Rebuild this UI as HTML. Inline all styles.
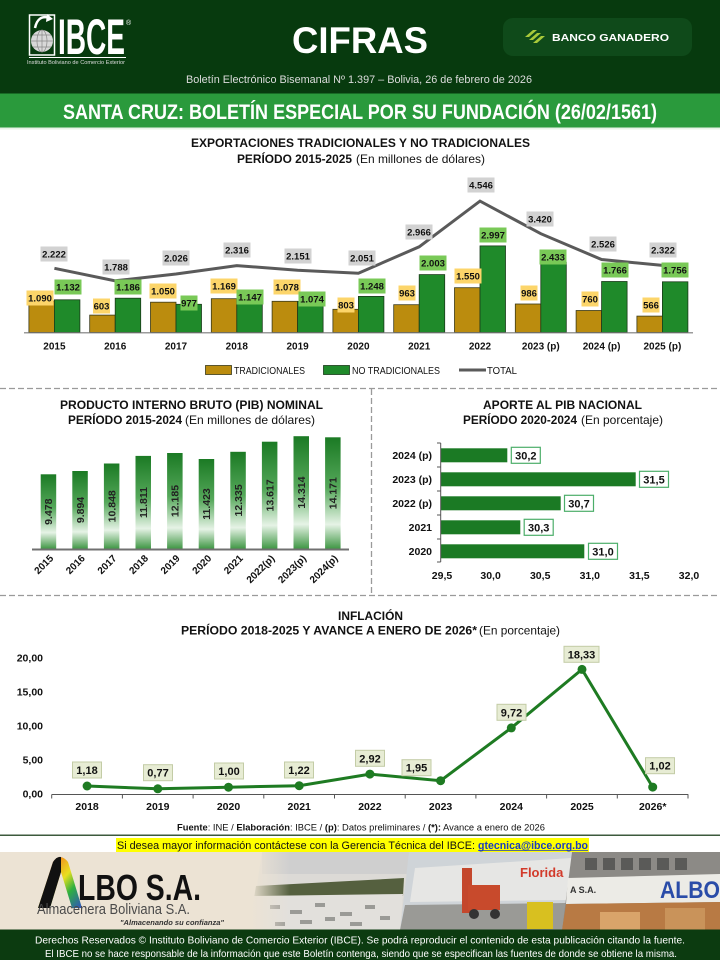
<!DOCTYPE html>
<html>
<head>
<meta charset="utf-8">
<style>
html,body{margin:0;padding:0;background:#fff;}
svg{display:block;}
text{font-family:"Liberation Sans",Arial,sans-serif;}
.b{font-weight:bold;}
</style>
</head>
<body>
<svg width="720" height="960" viewBox="0 0 720 960" xmlns="http://www.w3.org/2000/svg">
<defs>
  <linearGradient id="pib" x1="0" y1="0" x2="0" y2="1">
    <stop offset="0" stop-color="#1b7a24"/>
    <stop offset="0.45" stop-color="#55a85a"/>
    <stop offset="0.78" stop-color="#e6f3e6"/>
    <stop offset="1" stop-color="#3e9643"/>
  </linearGradient>
  <linearGradient id="rb" x1="0" y1="0" x2="1" y2="1">
    <stop offset="0" stop-color="#e02020"/>
    <stop offset="0.3" stop-color="#f0a020"/>
    <stop offset="0.5" stop-color="#e8e020"/>
    <stop offset="0.7" stop-color="#30b040"/>
    <stop offset="1" stop-color="#3050c0"/>
  </linearGradient>
  <linearGradient id="fade" x1="0" y1="0" x2="1" y2="0">
    <stop offset="0" stop-color="#ece3d4" stop-opacity="1"/>
    <stop offset="1" stop-color="#ece3d4" stop-opacity="0"/>
  </linearGradient>
</defs>

<!-- HEADER -->
<rect x="0" y="0" width="720" height="94" fill="#073a0e"/>
<rect x="29.5" y="15" width="25" height="40" fill="none" stroke="#fff" stroke-width="1.5"/>
<circle cx="42" cy="41" r="11" fill="#d8d8d8"/>
<g stroke="#888" stroke-width="0.7" fill="none">
  <ellipse cx="42" cy="41" rx="5" ry="11"/>
  <line x1="31" y1="41" x2="53" y2="41"/>
  <line x1="33" y1="35" x2="51" y2="35"/>
  <line x1="33" y1="47" x2="51" y2="47"/>
  <line x1="42" y1="30" x2="42" y2="52"/>
</g>
<path d="M35,28 Q38,14 50,18" fill="none" stroke="#fff" stroke-width="2.5"/>
<path d="M47,14 L53,19 L46,22 Z" fill="#fff"/>
<text x="58" y="54" class="b" font-size="50" fill="#fff" textLength="67" lengthAdjust="spacingAndGlyphs">IBCE</text>
<text x="126" y="25" font-size="7" fill="#fff">®</text>
<line x1="29" y1="57.5" x2="126" y2="57.5" stroke="#fff" stroke-width="1"/>
<text x="27" y="64" font-size="5" fill="#ddd" textLength="98" lengthAdjust="spacingAndGlyphs">Instituto Boliviano de Comercio Exterior</text>

<text x="360" y="53" class="b" font-size="37" fill="#fff" text-anchor="middle" textLength="136" lengthAdjust="spacingAndGlyphs">CIFRAS</text>

<rect x="503" y="18" width="189" height="38" rx="10" fill="#0f4a1a"/>
<g fill="#a9c93a">
  <polygon points="525,37 533,30 537,30 529,37"/>
  <polygon points="529,40 537,33 541,33 533,40"/>
  <polygon points="533,43 541,36 545,36 537,43"/>
</g>
<text x="552" y="41" class="b" font-size="10.5" fill="#fff" textLength="117" lengthAdjust="spacingAndGlyphs">BANCO GANADERO</text>

<text x="186" y="83" font-size="11" fill="#dcdcdc" textLength="346" lengthAdjust="spacingAndGlyphs">Boletín Electrónico Bisemanal Nº 1.397 – Bolivia, 26 de febrero de 2026</text>

<rect x="0" y="93.5" width="720" height="34" fill="#2a9a3c"/>
<rect x="0" y="127.5" width="720" height="2" fill="#e6f3e6"/>
<text x="63" y="119" font-size="21" font-weight="bold" fill="#fff" textLength="594" lengthAdjust="spacingAndGlyphs">SANTA CRUZ: BOLETÍN ESPECIAL POR SU FUNDACIÓN (26/02/1561)</text>

<!-- EXPORT CHART -->
<text x="191" y="147" class="b" font-size="12" fill="#111" textLength="339" lengthAdjust="spacingAndGlyphs">EXPORTACIONES TRADICIONALES Y NO TRADICIONALES</text>
<text x="237" y="163" class="b" font-size="12" fill="#111" textLength="115" lengthAdjust="spacingAndGlyphs">PERÍODO 2015-2025</text>
<text x="356" y="163" font-size="12" fill="#111" textLength="129" lengthAdjust="spacingAndGlyphs">(En millones de dólares)</text>

<g fill="#bb8c0e" stroke="#3a3a1a" stroke-width="0.8">
  <rect x="28.9" y="301.0" width="25.5" height="31.5"/>
  <rect x="89.7" y="315.1" width="25.5" height="17.4"/>
  <rect x="150.5" y="302.2" width="25.5" height="30.3"/>
  <rect x="211.3" y="298.7" width="25.5" height="33.8"/>
  <rect x="272.1" y="301.3" width="25.5" height="31.2"/>
  <rect x="332.9" y="309.3" width="25.5" height="23.2"/>
  <rect x="393.7" y="304.7" width="25.5" height="27.8"/>
  <rect x="454.5" y="287.7" width="25.5" height="44.8"/>
  <rect x="515.3" y="304.0" width="25.5" height="28.5"/>
  <rect x="576.1" y="310.5" width="25.5" height="22.0"/>
  <rect x="636.9" y="316.1" width="25.5" height="16.4"/>
</g>
<g fill="#1f8a2a" stroke="#1a3a1a" stroke-width="0.8">
  <rect x="54.4" y="299.8" width="25.5" height="32.7"/>
  <rect x="115.2" y="298.2" width="25.5" height="34.3"/>
  <rect x="176" y="304.3" width="25.5" height="28.2"/>
  <rect x="236.8" y="299.4" width="25.5" height="33.1"/>
  <rect x="297.6" y="301.5" width="25.5" height="31.0"/>
  <rect x="358.4" y="296.4" width="25.5" height="36.1"/>
  <rect x="419.2" y="274.6" width="25.5" height="57.9"/>
  <rect x="480" y="245.9" width="25.5" height="86.6"/>
  <rect x="540.8" y="262.2" width="25.5" height="70.3"/>
  <rect x="601.6" y="281.5" width="25.5" height="51.0"/>
  <rect x="662.4" y="281.8" width="25.5" height="50.7"/>
</g>
<line x1="24" y1="332.8" x2="693" y2="332.8" stroke="#7a7a7a" stroke-width="1.2"/>
<polyline points="54.4,268.3 115.2,280.8 176,274.0 236.8,265.6 297.6,270.3 358.4,273.2 419.2,246.8 480,201.1 540.8,233.7 601.6,259.5 662.4,265.4" fill="none" stroke="#5a5a5a" stroke-width="3"/>

<g font-size="9.5" class="b" text-anchor="middle" fill="#111">
  <rect x="26.5" y="290.5" width="27" height="15" fill="#fcd56a"/><text x="40" y="301.5">1.090</text>
  <rect x="93" y="298.5" width="17" height="15" fill="#fcd56a"/><text x="101.5" y="309.5">603</text>
  <rect x="149.5" y="283.5" width="27" height="15" fill="#fcd56a"/><text x="163" y="294.5">1.050</text>
  <rect x="210.5" y="278.5" width="27" height="15" fill="#fcd56a"/><text x="224" y="289.5">1.169</text>
  <rect x="273.5" y="279.5" width="27" height="15" fill="#fcd56a"/><text x="287" y="290.5">1.078</text>
  <rect x="337.5" y="297.5" width="17" height="15" fill="#fcd56a"/><text x="346" y="308.5">803</text>
  <rect x="398.5" y="285.5" width="17" height="15" fill="#fcd56a"/><text x="407" y="296.5">963</text>
  <rect x="454.5" y="268.5" width="27" height="15" fill="#fcd56a"/><text x="468" y="279.5">1.550</text>
  <rect x="520.5" y="285.5" width="17" height="15" fill="#fcd56a"/><text x="529" y="296.5">986</text>
  <rect x="581.5" y="291.5" width="17" height="15" fill="#fcd56a"/><text x="590" y="302.5">760</text>
  <rect x="642.5" y="297.5" width="17" height="15" fill="#fcd56a"/><text x="651" y="308.5">566</text>
</g>
<g font-size="9.5" class="b" text-anchor="middle" fill="#111">
  <rect x="54.5" y="279.5" width="27" height="15" fill="#79c957"/><text x="68" y="290.5">1.132</text>
  <rect x="114.5" y="279.5" width="27" height="15" fill="#79c957"/><text x="128" y="290.5">1.186</text>
  <rect x="180.5" y="295.5" width="17" height="15" fill="#79c957"/><text x="189" y="306.5">977</text>
  <rect x="236.5" y="289.5" width="27" height="15" fill="#79c957"/><text x="250" y="300.5">1.147</text>
  <rect x="298.5" y="291.5" width="27" height="15" fill="#79c957"/><text x="312" y="302.5">1.074</text>
  <rect x="358.5" y="278.5" width="27" height="15" fill="#79c957"/><text x="372" y="289.5">1.248</text>
  <rect x="419.5" y="255.5" width="27" height="15" fill="#79c957"/><text x="433" y="266.5">2.003</text>
  <rect x="479.5" y="227.5" width="27" height="15" fill="#79c957"/><text x="493" y="238.5">2.997</text>
  <rect x="539.5" y="249.5" width="27" height="15" fill="#79c957"/><text x="553" y="260.5">2.433</text>
  <rect x="601.5" y="262.5" width="27" height="15" fill="#79c957"/><text x="615" y="273.5">1.766</text>
  <rect x="661.5" y="262.5" width="27" height="15" fill="#79c957"/><text x="675" y="273.5">1.756</text>
</g>
<g font-size="9.5" class="b" text-anchor="middle" fill="#111">
  <rect x="40.5" y="246.5" width="27" height="15" fill="#d2d2d2"/><text x="54" y="257.5">2.222</text>
  <rect x="102.5" y="259.5" width="27" height="15" fill="#d2d2d2"/><text x="116" y="270.5">1.788</text>
  <rect x="162.5" y="250.5" width="27" height="15" fill="#d2d2d2"/><text x="176" y="261.5">2.026</text>
  <rect x="223.5" y="242.5" width="27" height="15" fill="#d2d2d2"/><text x="237" y="253.5">2.316</text>
  <rect x="284.5" y="248.5" width="27" height="15" fill="#d2d2d2"/><text x="298" y="259.5">2.151</text>
  <rect x="348.5" y="250.5" width="27" height="15" fill="#d2d2d2"/><text x="362" y="261.5">2.051</text>
  <rect x="405.5" y="224.5" width="27" height="15" fill="#d2d2d2"/><text x="419" y="235.5">2.966</text>
  <rect x="467.5" y="177.5" width="27" height="15" fill="#d2d2d2"/><text x="481" y="188.5">4.546</text>
  <rect x="526.5" y="211.5" width="27" height="15" fill="#d2d2d2"/><text x="540" y="222.5">3.420</text>
  <rect x="589.5" y="236.5" width="27" height="15" fill="#d2d2d2"/><text x="603" y="247.5">2.526</text>
  <rect x="649.5" y="242.5" width="27" height="15" fill="#d2d2d2"/><text x="663" y="253.5">2.322</text>
</g>
<g font-size="10" class="b" text-anchor="middle" fill="#111">
  <text x="54.4" y="349.5">2015</text>
  <text x="115.2" y="349.5">2016</text>
  <text x="176" y="349.5">2017</text>
  <text x="236.8" y="349.5">2018</text>
  <text x="297.6" y="349.5">2019</text>
  <text x="358.4" y="349.5">2020</text>
  <text x="419.2" y="349.5">2021</text>
  <text x="480" y="349.5">2022</text>
  <text x="540.8" y="349.5">2023 (p)</text>
  <text x="601.6" y="349.5">2024 (p)</text>
  <text x="662.4" y="349.5">2025 (p)</text>
</g>
<rect x="205.5" y="365.5" width="26" height="9" fill="#bb8c0e" stroke="#3a3a1a" stroke-width="0.8"/>
<text x="234" y="374" font-size="10" fill="#111" textLength="71" lengthAdjust="spacingAndGlyphs">TRADICIONALES</text>
<rect x="323.5" y="365.5" width="26" height="9" fill="#1f8a2a" stroke="#1a3a1a" stroke-width="0.8"/>
<text x="352" y="374" font-size="10" fill="#111" textLength="88" lengthAdjust="spacingAndGlyphs">NO TRADICIONALES</text>
<line x1="459" y1="370" x2="486" y2="370" stroke="#5a5a5a" stroke-width="3"/>
<text x="487" y="374" font-size="10" fill="#111" textLength="30" lengthAdjust="spacingAndGlyphs">TOTAL</text>

<g stroke="#9a9a9a" stroke-width="1.3" stroke-dasharray="6,3" fill="none">
  <line x1="0" y1="388.5" x2="720" y2="388.5"/>
  <line x1="371.5" y1="389" x2="371.5" y2="595"/>
  <line x1="0" y1="595.5" x2="720" y2="595.5"/>
</g>

<!-- PIB CHART -->
<text x="60" y="409" class="b" font-size="12" fill="#111" textLength="263" lengthAdjust="spacingAndGlyphs">PRODUCTO INTERNO BRUTO (PIB) NOMINAL</text>
<text x="68" y="424" class="b" font-size="12" fill="#111" textLength="114" lengthAdjust="spacingAndGlyphs">PERÍODO 2015-2024</text>
<text x="185" y="424" font-size="12" fill="#111" textLength="130" lengthAdjust="spacingAndGlyphs">(En millones de dólares)</text>
<g fill="url(#pib)">
  <rect x="40.7" y="474.3" width="15.5" height="74.7"/>
  <rect x="72.3" y="471.0" width="15.5" height="78.0"/>
  <rect x="103.9" y="463.5" width="15.5" height="85.5"/>
  <rect x="135.5" y="455.9" width="15.5" height="93.1"/>
  <rect x="167.1" y="453.0" width="15.5" height="96.0"/>
  <rect x="198.7" y="459.0" width="15.5" height="90.0"/>
  <rect x="230.3" y="451.8" width="15.5" height="97.2"/>
  <rect x="261.9" y="441.7" width="15.5" height="107.3"/>
  <rect x="293.5" y="436.2" width="15.5" height="112.8"/>
  <rect x="325.1" y="437.3" width="15.5" height="111.7"/>
</g>
<line x1="32" y1="549.5" x2="349" y2="549.5" stroke="#707070" stroke-width="2"/>
<g font-size="10.5" class="b" fill="#222" text-anchor="middle">
  <text transform="translate(52.2,511.7) rotate(-90)">9.478</text>
  <text transform="translate(83.8,510) rotate(-90)">9.894</text>
  <text transform="translate(115.4,506.3) rotate(-90)">10.848</text>
  <text transform="translate(147,502.5) rotate(-90)">11.811</text>
  <text transform="translate(178.6,501) rotate(-90)">12.185</text>
  <text transform="translate(210.2,504) rotate(-90)">11.423</text>
  <text transform="translate(241.8,500.4) rotate(-90)">12.335</text>
  <text transform="translate(273.4,495.4) rotate(-90)">13.617</text>
  <text transform="translate(305,492.6) rotate(-90)">14.314</text>
  <text transform="translate(336.6,493.2) rotate(-90)">14.171</text>
</g>
<g font-size="10" class="b" fill="#111" text-anchor="end">
  <text transform="translate(54,559) rotate(-45)">2015</text>
  <text transform="translate(85.6,559) rotate(-45)">2016</text>
  <text transform="translate(117.2,559) rotate(-45)">2017</text>
  <text transform="translate(148.8,559) rotate(-45)">2018</text>
  <text transform="translate(180.4,559) rotate(-45)">2019</text>
  <text transform="translate(212,559) rotate(-45)">2020</text>
  <text transform="translate(243.6,559) rotate(-45)">2021</text>
  <text transform="translate(275.2,559) rotate(-45)">2022(p)</text>
  <text transform="translate(306.8,559) rotate(-45)">2023(p)</text>
  <text transform="translate(338.4,559) rotate(-45)">2024(p)</text>
</g>

<!-- APORTE CHART -->
<text x="483" y="409" class="b" font-size="12" fill="#111" textLength="159" lengthAdjust="spacingAndGlyphs">APORTE AL PIB NACIONAL</text>
<text x="463" y="424" class="b" font-size="12" fill="#111" textLength="114" lengthAdjust="spacingAndGlyphs">PERÍODO 2020-2024</text>
<text x="581" y="424" font-size="12" fill="#111" textLength="82" lengthAdjust="spacingAndGlyphs">(En porcentaje)</text>
<g fill="#1b7a24">
  <rect x="440.7" y="448.3" width="66.6" height="14"/>
  <rect x="440.7" y="472.3" width="195" height="14"/>
  <rect x="440.7" y="496.3" width="120" height="14"/>
  <rect x="440.7" y="520.3" width="79.6" height="14"/>
  <rect x="440.7" y="544.3" width="143.6" height="14"/>
</g>
<g stroke="#555" stroke-width="1">
  <line x1="440.7" y1="443" x2="440.7" y2="562"/>
  <line x1="437" y1="443" x2="440.7" y2="443"/>
  <line x1="437" y1="467" x2="440.7" y2="467"/>
  <line x1="437" y1="491" x2="440.7" y2="491"/>
  <line x1="437" y1="515" x2="440.7" y2="515"/>
  <line x1="437" y1="539" x2="440.7" y2="539"/>
  <line x1="437" y1="562" x2="440.7" y2="562"/>
</g>
<g fill="#fff" stroke="#4cae6a" stroke-width="1.2">
  <rect x="511.3" y="447.3" width="29" height="16"/>
  <rect x="639.5" y="471.3" width="29" height="16"/>
  <rect x="564.5" y="495.3" width="29" height="16"/>
  <rect x="524.2" y="519.3" width="29" height="16"/>
  <rect x="588.5" y="543.3" width="29" height="16"/>
</g>
<g font-size="11" class="b" fill="#111" text-anchor="middle">
  <text x="525.8" y="459.3">30,2</text>
  <text x="654" y="483.3">31,5</text>
  <text x="579" y="507.3">30,7</text>
  <text x="538.7" y="531.3">30,3</text>
  <text x="603" y="555.3">31,0</text>
</g>
<g font-size="10.5" class="b" fill="#111" text-anchor="end">
  <text x="432" y="459">2024 (p)</text>
  <text x="432" y="483">2023 (p)</text>
  <text x="432" y="507">2022 (p)</text>
  <text x="432" y="531">2021</text>
  <text x="432" y="555">2020</text>
</g>
<g font-size="10.5" class="b" fill="#111" text-anchor="middle">
  <text x="442" y="579">29,5</text>
  <text x="490.6" y="579">30,0</text>
  <text x="540.2" y="579">30,5</text>
  <text x="589.8" y="579">31,0</text>
  <text x="639.4" y="579">31,5</text>
  <text x="689" y="579">32,0</text>
</g>

<!-- INFLATION CHART -->
<text x="338" y="620" class="b" font-size="12" fill="#111" textLength="65" lengthAdjust="spacingAndGlyphs">INFLACIÓN</text>
<text x="181" y="634.5" class="b" font-size="12" fill="#111" textLength="296" lengthAdjust="spacingAndGlyphs">PERÍODO 2018-2025 Y AVANCE A ENERO DE 2026*</text>
<text x="479" y="634.5" font-size="12" fill="#111" textLength="81" lengthAdjust="spacingAndGlyphs">(En porcentaje)</text>
<g font-size="10.5" class="b" fill="#111" text-anchor="end">
  <text x="43" y="661.7">20,00</text>
  <text x="43" y="695.7">15,00</text>
  <text x="43" y="729.7">10,00</text>
  <text x="43" y="763.7">5,00</text>
  <text x="43" y="797.7">0,00</text>
</g>
<g stroke="#555" stroke-width="1">
  <line x1="51.7" y1="794.5" x2="688.3" y2="794.5"/>
  <line x1="51.7" y1="794.5" x2="51.7" y2="798.5"/>
  <line x1="122.4" y1="794.5" x2="122.4" y2="798.5"/>
  <line x1="193.1" y1="794.5" x2="193.1" y2="798.5"/>
  <line x1="263.8" y1="794.5" x2="263.8" y2="798.5"/>
  <line x1="334.5" y1="794.5" x2="334.5" y2="798.5"/>
  <line x1="405.2" y1="794.5" x2="405.2" y2="798.5"/>
  <line x1="475.9" y1="794.5" x2="475.9" y2="798.5"/>
  <line x1="546.6" y1="794.5" x2="546.6" y2="798.5"/>
  <line x1="617.3" y1="794.5" x2="617.3" y2="798.5"/>
  <line x1="688" y1="794.5" x2="688" y2="798.5"/>
</g>
<polyline points="87.1,786.0 157.8,788.8 228.5,787.2 299.2,785.7 369.9,774.1 440.6,780.7 511.3,727.9 582.0,669.4 652.7,787.1" fill="none" stroke="#1e7b22" stroke-width="3"/>
<g fill="#1e7b22">
  <circle cx="87.1" cy="786.0" r="4.5"/>
  <circle cx="157.8" cy="788.8" r="4.5"/>
  <circle cx="228.5" cy="787.2" r="4.5"/>
  <circle cx="299.2" cy="785.7" r="4.5"/>
  <circle cx="369.9" cy="774.1" r="4.5"/>
  <circle cx="440.6" cy="780.7" r="4.5"/>
  <circle cx="511.3" cy="727.9" r="4.5"/>
  <circle cx="582.0" cy="669.4" r="4.5"/>
  <circle cx="652.7" cy="787.1" r="4.5"/>
</g>
<g fill="#e7ecd4" stroke="#c3cca6" stroke-width="1">
  <rect x="72.5" y="762" width="29" height="16"/>
  <rect x="143.5" y="764.7" width="29" height="16"/>
  <rect x="214.5" y="763" width="29" height="16"/>
  <rect x="284.5" y="762" width="29" height="16"/>
  <rect x="355.5" y="750.3" width="29" height="16"/>
  <rect x="402" y="759.7" width="29" height="16"/>
  <rect x="497" y="704.3" width="29" height="16"/>
  <rect x="564" y="646.3" width="35" height="16"/>
  <rect x="645.5" y="757.7" width="29" height="16"/>
</g>
<g font-size="11" class="b" fill="#111" text-anchor="middle">
  <text x="87" y="774">1,18</text>
  <text x="158" y="776.7">0,77</text>
  <text x="229" y="775">1,00</text>
  <text x="299" y="774">1,22</text>
  <text x="370" y="762.3">2,92</text>
  <text x="416.5" y="771.7">1,95</text>
  <text x="511.5" y="716.3">9,72</text>
  <text x="581.5" y="658.3">18,33</text>
  <text x="660" y="769.7">1,02</text>
</g>
<g font-size="10.5" class="b" fill="#111" text-anchor="middle">
  <text x="87.1" y="810">2018</text>
  <text x="157.8" y="810">2019</text>
  <text x="228.5" y="810">2020</text>
  <text x="299.2" y="810">2021</text>
  <text x="369.9" y="810">2022</text>
  <text x="440.6" y="810">2023</text>
  <text x="511.3" y="810">2024</text>
  <text x="582.0" y="810">2025</text>
  <text x="652.7" y="810">2026*</text>
</g>

<text x="177" y="830.5" font-size="9" fill="#111" textLength="368" lengthAdjust="spacingAndGlyphs"><tspan font-weight="bold">Fuente</tspan>: INE / <tspan font-weight="bold">Elaboración</tspan>: IBCE / <tspan font-weight="bold">(p)</tspan>: Datos preliminares / <tspan font-weight="bold">(*):</tspan> Avance a enero de 2026</text>
<rect x="0" y="834.5" width="720" height="1.5" fill="#3c5a3c"/>

<rect x="116" y="838" width="473" height="14" fill="#ffff00"/>
<text x="117" y="849" font-size="11" fill="#111" textLength="358" lengthAdjust="spacingAndGlyphs">Si desea mayor información contáctese con la Gerencia Técnica del IBCE:</text>
<text x="478" y="849" font-size="11" font-weight="bold" fill="#1a3cc0" textLength="110" lengthAdjust="spacingAndGlyphs">gtecnica@ibce.org.bo</text>
<line x1="478" y1="850.5" x2="588" y2="850.5" stroke="#1a3cc0" stroke-width="0.8"/>

<!-- AD AREA -->
<rect x="0" y="852" width="720" height="78" fill="#ece3d4"/>
<polygon points="262,852 409,852 400,930 250,930" fill="#dcdad6"/>
<rect x="262" y="852" width="147" height="22" fill="#cfcfcf"/>
<polygon points="256,886 404,878 403,896 254,898" fill="#55603f"/>
<polygon points="254,896 403,894 400,930 250,930" fill="#e2e0dc"/>
<g fill="#9a9a96">
  <rect x="270" y="905" width="10" height="4"/><rect x="290" y="910" width="12" height="4"/>
  <rect x="315" y="903" width="10" height="4"/><rect x="340" y="912" width="12" height="4"/>
  <rect x="365" y="905" width="10" height="4"/><rect x="300" y="920" width="12" height="4"/>
  <rect x="350" y="922" width="12" height="4"/><rect x="275" y="922" width="10" height="4"/>
  <rect x="380" y="916" width="10" height="4"/><rect x="325" y="917" width="10" height="4"/>
</g>
<rect x="250" y="852" width="40" height="78" fill="url(#fade)"/>
<polygon points="409,852 572,852 562,930 400,930" fill="#cfd4d8"/>
<polygon points="415,868 572,858 568,900 410,902" fill="#e6e6e4"/>
<text x="520" y="877" font-size="13" font-weight="bold" fill="#d23a2a">Florida</text>
<polygon points="405,905 566,903 562,930 400,930" fill="#9a9a96"/>
<rect x="462" y="868" width="10" height="45" fill="#c4472c"/>
<rect x="468" y="885" width="32" height="25" fill="#c84a2c"/>
<circle cx="474" cy="914" r="5" fill="#333"/><circle cx="495" cy="914" r="5" fill="#333"/>
<rect x="527" y="902" width="26" height="27" fill="#d8c020"/>
<polygon points="572,852 720,852 720,930 562,930" fill="#8c8a86"/>
<g fill="#5a5a58">
  <rect x="585" y="858" width="12" height="12"/><rect x="603" y="858" width="12" height="12"/>
  <rect x="621" y="858" width="12" height="12"/><rect x="639" y="858" width="12" height="12"/>
  <rect x="657" y="858" width="12" height="12"/><rect x="675" y="858" width="12" height="12"/>
</g>
<polygon points="568,878 720,874 720,902 566,904" fill="#ecebe6"/>
<text x="570" y="893" font-size="9" font-weight="bold" fill="#333">A S.A.</text>
<text x="660" y="898" font-size="24" font-weight="bold" fill="#2a4ca8" textLength="60" lengthAdjust="spacingAndGlyphs">ALBO</text>
<polygon points="566,904 720,902 720,930 562,930" fill="#b87a44"/>
<rect x="600" y="912" width="40" height="18" fill="#d9a46a"/>
<rect x="665" y="908" width="40" height="22" fill="#c9935a"/>

<!-- ALBO logo -->
<path d="M38,908 L53,862 Q60,852 68,862 L82,908 L72,908 L61,872 L50,908 Z" fill="url(#rb)"/>
<path d="M38,908 L53,862 Q57,856 61,857 L61,872 L50,908 Z" fill="#111"/>
<text x="78" y="900" font-size="36" font-weight="bold" fill="#111" textLength="123" lengthAdjust="spacingAndGlyphs">LBO S.A.</text>
<text x="37" y="914" font-size="15" fill="#4a4a4a" textLength="153" lengthAdjust="spacingAndGlyphs">Almacenera Boliviana S.A.</text>
<text x="120" y="925" font-size="7.5" font-style="italic" font-weight="bold" fill="#333" font-family="Liberation Serif, serif" textLength="104" lengthAdjust="spacingAndGlyphs">"Almacenando su confianza"</text>

<!-- FOOTER -->
<rect x="0" y="929.5" width="720" height="30.5" fill="#0c3b10"/>
<text x="35" y="943.5" font-size="10.5" fill="#fff" textLength="650" lengthAdjust="spacingAndGlyphs">Derechos Reservados © Instituto Boliviano de Comercio Exterior (IBCE). Se podrá reproducir el contenido de esta publicación citando la fuente.</text>
<text x="45" y="957" font-size="10.5" fill="#fff" textLength="632" lengthAdjust="spacingAndGlyphs">El IBCE no se hace responsable de la información que este Boletín contenga, siendo que se especifican las fuentes de donde se obtiene la misma.</text>
</svg>
</body>
</html>
